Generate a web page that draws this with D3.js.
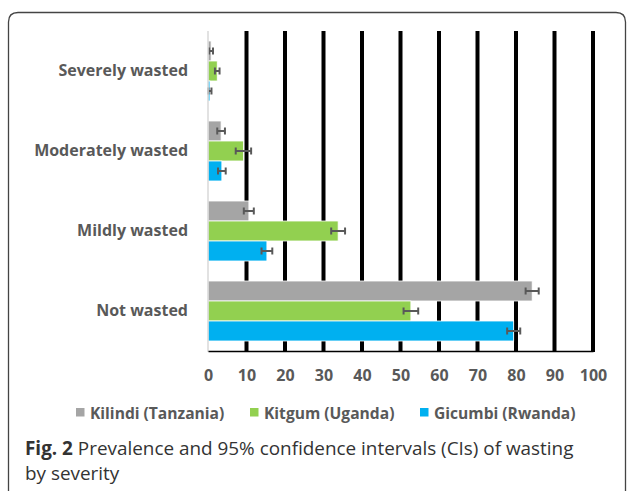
<!DOCTYPE html>
<html><head><meta charset="utf-8">
<script src="https://cdn.jsdelivr.net/npm/d3@7"></script>
<style>body{margin:0;background:#fff}svg{display:block}</style>
</head><body>
<svg id="c" width="627" height="491"></svg>
<script>
const categories = ["Severely wasted","Moderately wasted","Mildly wasted","Not wasted"];
const seriesNames = ["Kilindi (Tanzania)","Kitgum (Uganda)","Gicumbi (Rwanda)"];
const kilindi = [0.8, 3.4, 10.6, 84.2];
const kitgum = [2.4, 9.2, 33.8, 52.7];
const gicumbi = [0.5, 3.6, 15.3, 79.4];
const kilindiCI = [0.5, 1.0, 1.3, 1.7];
const kitgumCI = [0.6, 2.0, 1.8, 1.9];
const gicumbiCI = [0.4, 1.0, 1.4, 1.7];
const xTicks = [0,10,20,30,40,50,60,70,80,90,100];
const colors = ["#A5A5A5","#92D050","#00B0F0"];
const FONT = "'Open Sans', sans-serif";

const svg = d3.select("#c");
// frame
svg.append("path")
  .attr("d","M8.5,520 L8.5,22 Q8.5,12.5 18,12.5 L616,12.5 Q625.5,12.5 625.5,22 L625.5,520")
  .attr("fill","none").attr("stroke","#444").attr("stroke-width",1.3);

const x = d3.scaleLinear().domain([0,100]).range([208,593]);
const y = d3.scaleBand().domain(categories).range([31,351]);
const sub = d3.scaleBand().domain([0,1,2]).range([0,60]);
const series = [kilindi,kitgum,gicumbi];
const cis = [kilindiCI,kitgumCI,gicumbiCI];

// gridlines
svg.append("g").selectAll("line").data(xTicks.filter(d=>d>0)).join("line")
  .attr("x1",d=>x(d)).attr("x2",d=>x(d)).attr("y1",31).attr("y2",352)
  .attr("stroke","#000").attr("stroke-width",4);

// bars
const groups = svg.append("g");
categories.forEach((c,ci)=>{
  const y0 = y(c) + (y.bandwidth()-60)/2;
  series.forEach((s,si)=>{
    const yy = y0 + sub(si);
    groups.append("rect").attr("x",x(0)).attr("y",yy).attr("width",x(s[ci])-x(0)).attr("height",sub.bandwidth())
      .attr("fill",colors[si]).attr("stroke","#fff").attr("stroke-width",0.8);
  });
});
// error bars
categories.forEach((c,ci)=>{
  const y0 = y(c) + (y.bandwidth()-60)/2;
  series.forEach((s,si)=>{
    const cy = y0 + sub(si) + sub.bandwidth()/2;
    const lo = x(s[ci]-cis[si][ci]), hi = x(s[ci]+cis[si][ci]);
    const g = groups.append("g").attr("stroke","#595959").attr("stroke-width",2);
    g.append("line").attr("x1",lo).attr("x2",hi).attr("y1",cy).attr("y2",cy);
    g.append("line").attr("x1",lo).attr("x2",lo).attr("y1",cy-3.5).attr("y2",cy+3.5);
    g.append("line").attr("x1",hi).attr("x2",hi).attr("y1",cy-3.5).attr("y2",cy+3.5);
  });
});

// axes lines
svg.append("line").attr("x1",x(0)).attr("x2",x(0)).attr("y1",31).attr("y2",352).attr("stroke","#d9d9d9").attr("stroke-width",1.5);
const xAxis = d3.axisBottom(x).tickValues(xTicks).tickSize(0).tickPadding(19);
const gx = svg.append("g").attr("transform","translate(0,351)").call(xAxis);
gx.select(".domain").attr("stroke","#000").attr("stroke-width",1.5);
gx.selectAll("text").attr("font-family",FONT).attr("font-weight","bold")
  .attr("font-size",16).attr("fill","#595959");

const yAxis = d3.axisLeft(y).tickSize(0).tickPadding(20);
const gy = svg.append("g").attr("transform",`translate(${x(0)},0)`).call(yAxis);
gy.select(".domain").remove();
gy.selectAll("text").attr("font-family",FONT).attr("font-weight","bold")
  .attr("font-size",16).attr("fill","#595959");

// legend
const legX = [76, 250, 420];
const leg = svg.append("g");
seriesNames.forEach((n,i)=>{
  leg.append("rect").attr("x",legX[i]).attr("y",408).attr("width",8.5).attr("height",8.5).attr("fill",colors[i]);
  leg.append("text").attr("x",legX[i]+14).attr("y",419).text(n)
    .attr("font-family",FONT).attr("font-weight","bold").attr("font-size",15.6).attr("fill","#595959");
});

// caption
const cap = svg.append("text").attr("x",25).attr("y",455).attr("font-family",FONT).attr("font-size",18.9).attr("fill","#333");
cap.append("tspan").attr("font-weight","bold").text("Fig. 2");
cap.append("tspan").text(" Prevalence and 95% confidence intervals (CIs) of wasting");
svg.append("text").attr("x",25).attr("y",480).attr("font-family",FONT).attr("font-size",18.9).attr("fill","#333").text("by severity");
</script>
</body></html>
